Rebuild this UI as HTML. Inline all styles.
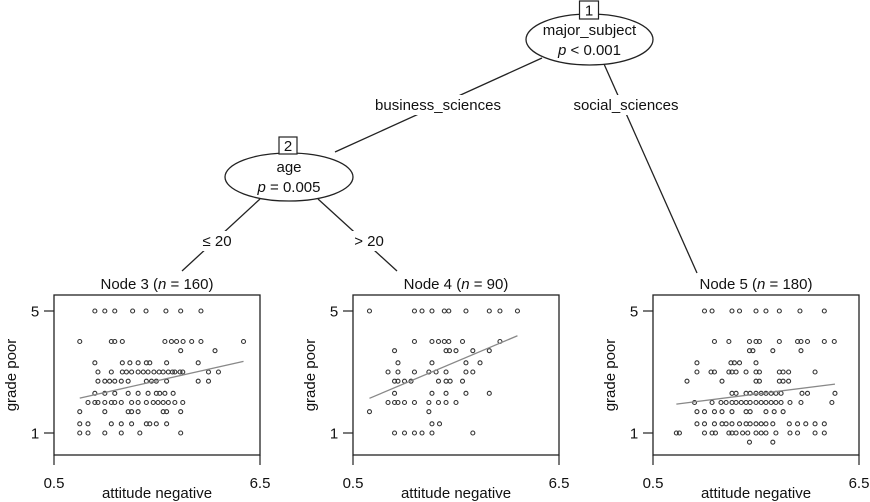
<!DOCTYPE html>
<html><head><meta charset="utf-8">
<style>
html,body{margin:0;padding:0;background:#fff;}
svg{display:block;font-family:"Liberation Sans",Arial,sans-serif;}
</style></head>
<body>
<svg id="chart" width="870" height="502" viewBox="0 0 870 502" xmlns="http://www.w3.org/2000/svg">
  <g stroke="#222" stroke-width="1.3" fill="none">
    <line x1="542" y1="58" x2="335" y2="152"/>
    <line x1="604" y1="64" x2="697" y2="273"/>
    <line x1="260" y1="199" x2="182" y2="271"/>
    <line x1="318" y1="199" x2="397" y2="271"/>
  </g>
  <g font-size="15" fill="#111" text-anchor="middle">
    <rect x="366" y="95" width="144" height="20" fill="#fff"/>
    <text x="438" y="110">business_sciences</text>
    <rect x="564" y="95" width="124" height="20" fill="#fff"/>
    <text x="626" y="110">social_sciences</text>
    <rect x="196" y="231" width="42" height="20" fill="#fff"/>
    <text x="217" y="246">≤ 20</text>
    <rect x="348" y="231" width="42" height="20" fill="#fff"/>
    <text x="369" y="246">&gt; 20</text>
  </g>
  <g font-size="15" fill="#111" text-anchor="middle">
    <ellipse cx="589.5" cy="39.5" rx="63.5" ry="25.5" fill="#fff" stroke="#222" stroke-width="1.3"/>
    <rect x="579.5" y="1" width="19" height="18" fill="#fff" stroke="#222" stroke-width="1.2"/>
    <text x="589" y="15.5">1</text>
    <text x="589.5" y="35">major_subject</text>
    <text x="589.5" y="55"><tspan font-style="italic">p</tspan> &lt; 0.001</text>
  </g>
  <g font-size="15" fill="#111" text-anchor="middle">
    <ellipse cx="289" cy="177" rx="64" ry="24" fill="#fff" stroke="#222" stroke-width="1.3"/>
    <rect x="279" y="137" width="18" height="17" fill="#fff" stroke="#222" stroke-width="1.2"/>
    <text x="288" y="151">2</text>
    <text x="289" y="172">age</text>
    <text x="289" y="192"><tspan font-style="italic">p</tspan> = 0.005</text>
  </g>
  <g id="panels"></g>
</svg>
<script>
// Node 3 data: x = attitude negative, y = grade poor
const node3X = [1.69,1.98,2.27,2.79,3.18,3.76,4.19,4.78,
 1.25,2.17,2.27,2.49,3.73,3.92,4.07,4.26,4.51,4.78,6.02,
 4.19,5.19,
 1.69,2.49,2.71,2.95,3.19,3.29,3.78,4.70,
 1.78,2.17,2.49,2.61,2.76,2.95,3.10,3.24,3.41,3.56,3.68,3.83,3.95,4.02,4.17,4.25,5.0,5.29,
 1.78,1.98,2.12,2.27,2.46,2.66,3.19,3.34,3.48,3.78,4.70,5.0,
 1.69,1.98,2.27,2.66,2.95,3.24,3.48,3.58,3.73,3.97,
 1.49,1.69,1.78,1.98,2.17,2.27,2.46,2.76,2.95,3.19,3.39,3.53,3.68,3.83,4.02,4.25,
 1.25,1.98,2.66,2.76,2.95,3.68,3.78,4.19,
 1.25,1.49,2.17,2.46,2.76,3.19,3.29,3.48,3.78,
 1.25,1.49,1.98,2.46,3.00,4.19];
const node3Y = [5,5,5,5,5,5,5,5,
 4,4,4,4,4,4,4,4,4,4,4,
 3.7,3.7,
 3.3,3.3,3.3,3.3,3.3,3.3,3.3,3.3,
 3,3,3,3,3,3,3,3,3,3,3,3,3,3,3,3,3,3,
 2.7,2.7,2.7,2.7,2.7,2.7,2.7,2.7,2.7,2.7,2.7,2.7,
 2.3,2.3,2.3,2.3,2.3,2.3,2.3,2.3,2.3,2.3,
 2,2,2,2,2,2,2,2,2,2,2,2,2,2,2,2,
 1.7,1.7,1.7,1.7,1.7,1.7,1.7,1.7,
 1.3,1.3,1.3,1.3,1.3,1.3,1.3,1.3,1.3,
 1,1,1,1,1,1];
// Node 4 data
const node4X = [0.98,2.29,2.51,2.80,3.16,3.29,3.79,4.47,4.78,5.29,
 2.29,2.80,2.99,3.16,3.29,3.69,4.78,
 1.71,3.21,3.31,3.50,3.99,4.47,
 1.81,2.80,3.79,4.20,
 1.52,1.81,2.29,2.71,2.92,3.21,3.79,3.99,
 1.71,1.81,2.0,2.19,2.99,3.21,3.33,3.69,
 1.71,2.80,3.21,3.79,4.47,
 1.52,1.71,1.81,2.0,2.29,2.71,2.99,3.21,3.50,
 0.98,2.71,
 2.80,3.02,
 1.71,2.0,2.29,2.51,2.80,3.99];
const node4Y = [5,5,5,5,5,5,5,5,5,5,
 4,4,4,4,4,4,4,
 3.7,3.7,3.7,3.7,3.7,3.7,
 3.3,3.3,3.3,3.3,
 3,3,3,3,3,3,3,3,
 2.7,2.7,2.7,2.7,2.7,2.7,2.7,2.7,
 2.3,2.3,2.3,2.3,2.3,
 2,2,2,2,2,2,2,2,2,
 1.7,1.7,
 1.3,1.3,
 1,1,1,1,1,1];
// Node 5 data
const node5X = [2.0,2.22,2.80,3.02,3.50,3.79,4.18,4.78,5.49,
 2.29,2.71,3.31,3.50,3.60,4.18,4.71,4.81,5.0,5.49,5.78,
 3.31,3.41,3.99,4.81,
 1.78,2.77,2.87,3.02,3.50,
 1.78,2.19,2.29,2.71,2.80,2.92,3.21,3.50,3.60,4.18,4.29,4.45,5.22,
 1.49,2.51,3.50,3.60,4.18,4.29,4.45,
 2.80,2.92,3.21,3.33,3.50,3.65,3.79,3.94,4.08,4.23,4.84,5.0,5.80,
 1.71,2.22,2.48,2.63,2.80,2.92,3.07,3.21,3.33,3.50,3.65,3.79,3.94,4.08,4.23,4.49,4.81,5.71,
 1.78,2.0,2.29,2.51,2.80,3.21,3.33,3.79,4.03,4.29,
 1.78,2.0,2.29,2.51,2.63,2.80,3.02,3.21,3.33,3.50,3.65,3.79,3.99,4.47,4.71,4.95,5.22,5.49,
 1.18,1.27,2.0,2.22,2.32,2.71,2.80,2.92,3.11,3.26,3.50,3.65,3.79,4.08,4.49,4.71,5.22,5.49,
 3.31,3.99];
const node5Y = [5,5,5,5,5,5,5,5,5,
 4,4,4,4,4,4,4,4,4,4,4,
 3.7,3.7,3.7,3.7,
 3.3,3.3,3.3,3.3,3.3,
 3,3,3,3,3,3,3,3,3,3,3,3,3,
 2.7,2.7,2.7,2.7,2.7,2.7,2.7,
 2.3,2.3,2.3,2.3,2.3,2.3,2.3,2.3,2.3,2.3,2.3,2.3,2.3,
 2,2,2,2,2,2,2,2,2,2,2,2,2,2,2,2,2,2,
 1.7,1.7,1.7,1.7,1.7,1.7,1.7,1.7,1.7,1.7,
 1.3,1.3,1.3,1.3,1.3,1.3,1.3,1.3,1.3,1.3,1.3,1.3,1.3,1.3,1.3,1.3,1.3,1.3,
 1,1,1,1,1,1,1,1,1,1,1,1,1,1,1,1,1,1,
 0.7,0.7];
// fitted regression lines: intercept, slope
const fitIntercepts = [1.83, 1.67, 1.78];
const fitSlopes = [0.252, 0.476, 0.142];
const nodeTitles = ["Node 3", "Node 4", "Node 5"];
const nodeCounts = [160, 90, 180];
const xTickLabels = ["0.5", "6.5"];
const xTickValues = [0.5, 6.5];
const yTickValues = [5, 1];

const NS = "http://www.w3.org/2000/svg";
const panelsG = document.getElementById('panels');
const panelLefts = [54, 353, 653];
const W = 206, TOP = 295, BOT = 455;
const X0 = 0.5, X1 = 6.5;
const Y5 = 311, Y1 = 433;
const FS = 15;
function mk(tag, attrs, parent){const e=document.createElementNS(NS,tag);for(const k in attrs)e.setAttribute(k,attrs[k]);parent.appendChild(e);return e;}
const xsArr=[node3X,node4X,node5X], ysArr=[node3Y,node4Y,node5Y];
panelLefts.forEach((L,i)=>{
  const sx=v=>L+(v-X0)/(X1-X0)*W;
  const sy=v=>Y1-(v-1)*(Y1-Y5)/4;
  const g=mk('g',{},panelsG);
  
  
  const t=mk('text',{x:L+W/2,y:289,'text-anchor':'middle','font-size':FS,fill:'#111'},g);
  
  
  t.appendChild(document.createTextNode(nodeTitles[i]+' ('));
  const ts=mk('tspan',{'font-style':'italic'},t); ts.textContent='n';
  t.appendChild(document.createTextNode(' = '+nodeCounts[i]+')'));
  const box=mk('rect',{x:L,y:TOP,width:W,height:BOT-TOP,fill:'none',stroke:'#222','stroke-width':1.3},g);
  
  
  yTickValues.forEach(v=>{
    const ln=mk('line',{x1:L-10,x2:L,y1:sy(v),y2:sy(v),stroke:'#222','stroke-width':1.2},g);
    
    
    const tx=mk('text',{x:L-19,y:sy(v)+5.5,'text-anchor':'middle','font-size':FS,fill:'#111'},g);
    
    
    tx.textContent=String(v);
  });
  const yl=mk('text',{x:0,y:0,transform:`translate(${L-38},375) rotate(-90)`,'text-anchor':'middle','font-size':FS,fill:'#111'},g);
  
  
  yl.textContent='grade poor';
  xTickValues.forEach((v,k)=>{
    const ln=mk('line',{x1:sx(v),x2:sx(v),y1:BOT,y2:BOT+10,stroke:'#222','stroke-width':1.2},g);
    
    
    const tx=mk('text',{x:sx(v),y:488,'text-anchor':'middle','font-size':FS,fill:'#111'},g);
    
    
    tx.textContent=xTickLabels[k];
  });
  const xl=mk('text',{x:L+W/2,y:498,'text-anchor':'middle','font-size':FS,fill:'#111'},g);
  
  
  xl.textContent='attitude negative';
  const xs=xsArr[i], ys=ysArr[i];
  xs.forEach((xv,j)=>{
    const c=mk('circle',{cx:sx(xv),cy:sy(ys[j]),r:2,fill:'none',stroke:'#333','stroke-width':1.1},g);
    
    
  });
  const xmin=Math.min(...xs), xmax=Math.max(...xs);
  const f=v=>fitIntercepts[i]+fitSlopes[i]*v;
  const fl=mk('line',{x1:sx(xmin),y1:sy(f(xmin)),x2:sx(xmax),y2:sy(f(xmax)),stroke:'#888','stroke-width':1.3},g);
  
  
});
</script>
</body></html>
